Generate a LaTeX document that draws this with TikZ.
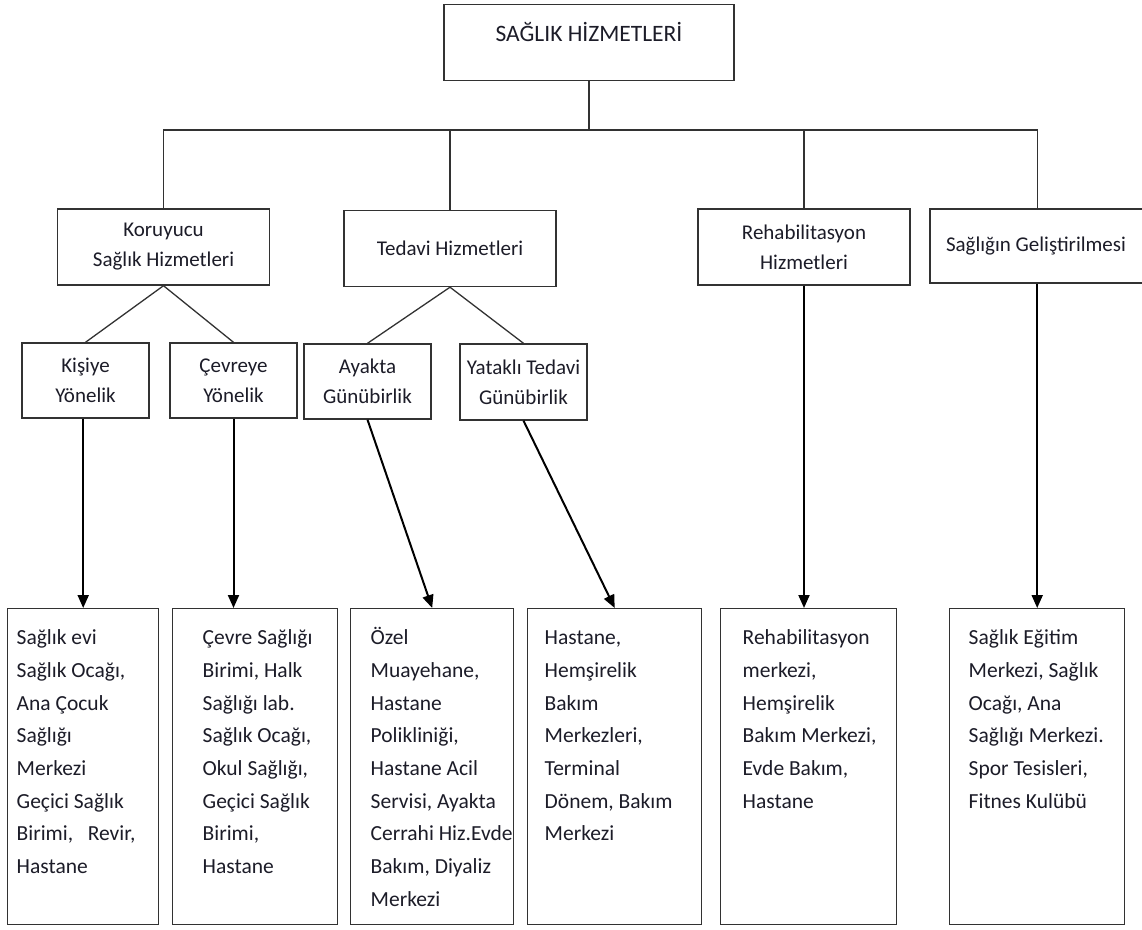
\documentclass[tikz,border=0pt]{standalone}
\usepackage{fontspec}
\setmainfont{Carlito}
\usetikzlibrary{arrows.meta}
\definecolor{yazi}{RGB}{28,28,40}
\definecolor{cizgi}{RGB}{50,50,50}
\newcommand{\liste}[3]{\parbox[t][290pt][t]{#1}{\fontsize{21.5}{32.7}\selectfont\raggedright\leftskip=#2\strut #3}}

\begin{document}
\begin{tikzpicture}[x=1pt,y=-1pt,
  kutu/.style={draw=cizgi,line width=1.4pt,fill=white,text=yazi,inner sep=0pt},
  baslik/.style={kutu,align=center,minimum width=212pt,minimum height=76pt,font=\fontsize{21}{30}\selectfont},
  alt/.style={kutu,align=center,minimum width=127pt,minimum height=75pt,font=\fontsize{21}{30}\selectfont},
  yaprak/.style={kutu,anchor=north west,inner ysep=13pt},
  bag/.style={cizgi,line width=1.3pt},
  ok/.style={black,line width=2pt,-{Triangle[length=13pt,width=11pt]}}]

	\useasboundingbox (0,0) rectangle (1142,929);

	% ust kutu
	\node[kutu,anchor=north,minimum width=290pt,text height=37pt,text depth=39pt,font=\fontsize{23.5}{28}\selectfont] (ust) at (589,4) {SAĞLIK HİZMETLERİ};
	\coordinate (cat) at (589,130);

	% hizmet turleri
	\node[baslik] (koru) at (163.5,247) {Koruyucu\\Sağlık Hizmetleri};
	\node[baslik] (tedavi) at (450,248.5) {Tedavi Hizmetleri};
	\node[baslik] (rehab) at (804,247) {Rehabilitasyon\\Hizmetleri};
	\node[kutu,minimum width=226pt,minimum height=74pt,font=\fontsize{21}{30}\selectfont] (gelis) at (1043,246) {\hspace*{-14pt}Sağlığın Geliştirilmesi};

	\node[alt] (kisi) at (85.5,380.5) {Kişiye\\Yönelik};
	\node[alt] (cevre) at (233.5,380.5) {Çevreye\\Yönelik};
	\node[alt] (ayakta) at (367.5,381.5) {Ayakta\\Günübirlik};
	\node[alt,minimum height=76pt] (yatak) at (523.5,382) {Yataklı Tedavi\\Günübirlik};

	% kurumlar
	\node[yaprak] (yap1) at (7,608) {\liste{151pt}{9pt}{Sağlık evi\\Sağlık Ocağı,\\Ana Çocuk\\Sağlığı\\Merkezi\\Geçici Sağlık\\Birimi,\ \ \ Revir,\\Hastane}};
	\node[yaprak] (yap2) at (172,608) {\liste{165pt}{30pt}{Çevre Sağlığı\\Birimi, Halk\\Sağlığı lab.\\Sağlık Ocağı,\\Okul Sağlığı,\\Geçici Sağlık\\Birimi,\\Hastane}};
	\node[yaprak] (yap3) at (350,608) {\liste{163pt}{20pt}{Özel\\Muayehane,\\Hastane\\Polikliniği,\\Hastane Acil\\Servisi, Ayakta\\Cerrahi Hiz.Evde\\Bakım, Diyaliz\\Merkezi}};
	\node[yaprak] (yap4) at (527,608) {\liste{174pt}{17pt}{Hastane,\\Hemşirelik\\Bakım\\Merkezleri,\\Terminal\\Dönem, Bakım\\Merkezi}};
	\node[yaprak] (yap5) at (720,608) {\liste{176pt}{22pt}{Rehabilitasyon\\merkezi,\\Hemşirelik\\Bakım Merkezi,\\Evde Bakım,\\Hastane}};
	\node[yaprak] (yap6) at (949,608) {\liste{175pt}{19pt}{Sağlık Eğitim\\Merkezi, Sağlık\\Ocağı, Ana\\Sağlığı Merkezi.\\Spor Tesisleri,\\Fitnes Kulübü}};

	% baglantilar
	\draw[bag] (ust) -- (cat);
	\draw[bag] (koru.north) |- (yap6.north |- cat) -- (yap6.north |- gelis.north);
	\draw[bag] (tedavi.north) -- (tedavi.north |- cat);
	\draw[bag] (rehab.north) -- (rehab.north |- cat);
	\draw[bag] (kisi.north) -- (koru.south) -- (cevre.north);
	\draw[bag] (ayakta.north) -- (tedavi.south) -- (yatak.north);

	\draw[ok] (kisi.south -| yap1.north) -- (yap1.north);
	\draw[ok] (cevre.south) -- (cevre.south |- yap2.north);
	\draw[ok] (ayakta.south) -- (yap3.north);
	\draw[ok] (yatak.south) -- (yap4.north);
	\draw[ok] (rehab.south) -- (rehab.south |- yap5.north);
	\draw[ok] (yap6.north |- gelis.south) -- (yap6.north);

\end{tikzpicture}
\end{document}
